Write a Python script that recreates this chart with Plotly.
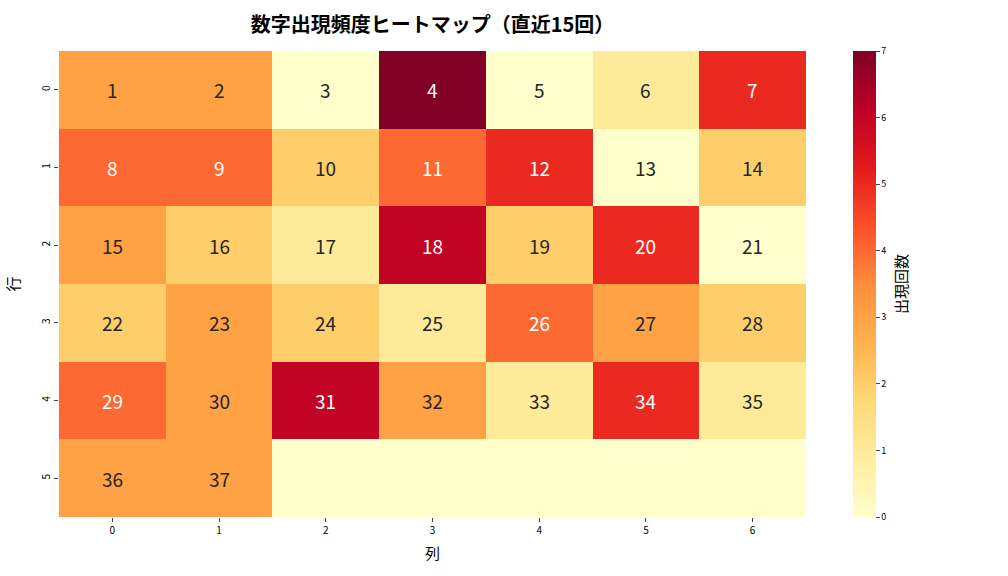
import plotly.graph_objects as go

rows = [0, 1, 2, 3, 4, 5]
cols = [0, 1, 2, 3, 4, 5, 6]
counts = [
    [3, 3, 0, 7, 0, 1, 5],
    [4, 4, 2, 4, 5, 0, 2],
    [3, 2, 1, 6, 2, 5, 0],
    [2, 3, 2, 1, 4, 3, 2],
    [4, 3, 6, 3, 1, 5, 1],
    [3, 3, 0, 0, 0, 0, 0],
]
labels = [
    ["1", "2", "3", "4", "5", "6", "7"],
    ["8", "9", "10", "11", "12", "13", "14"],
    ["15", "16", "17", "18", "19", "20", "21"],
    ["22", "23", "24", "25", "26", "27", "28"],
    ["29", "30", "31", "32", "33", "34", "35"],
    ["36", "37", "", "", "", "", ""],
]

FONT = "Noto Sans CJK JP"

fig = go.Figure(go.Heatmap(
    z=counts, x=cols, y=rows,
    colorscale="YlOrRd", zmin=0, zmax=7,
    xgap=0, ygap=0,
    colorbar=dict(
        thickness=23, len=1.0, lenmode="fraction", y=0.5, yanchor="middle",
        x=1.063, xanchor="left", xpad=0, ypad=0,
        outlinewidth=0, ticks="outside", ticklen=4, tickwidth=1,
        tickvals=[0, 1, 2, 3, 4, 5, 6, 7],
        tickfont=dict(size=9, family=FONT, color="#000"),
    ),
    hoverinfo="skip",
))

annos = []
for i, r in enumerate(rows):
    for j, c in enumerate(cols):
        t = labels[i][j]
        if t:
            annos.append(dict(
                x=c, y=r, text=t, showarrow=False,
                font=dict(size=19, family=FONT,
                          color="#ffffff" if counts[i][j] >= 4 else "#262626"),
            ))

annos.append(dict(
    xref="paper", yref="paper", x=(900 - 59) / 747, y=0.5,
    text="出現回数", textangle=-90, showarrow=False,
    xanchor="center", yanchor="middle",
    font=dict(size=15, family=FONT, color="#000"),
))

fig.update_layout(
    width=1008, height=576,
    margin=dict(l=59, r=202, t=51, b=59),
    plot_bgcolor="white", paper_bgcolor="white",
    title=dict(text="<b>数字出現頻度ヒートマップ（直近15回）</b>", x=(59 + 806) / 2 / 1008, xanchor="center",
               y=1 - 25 / 576, yanchor="middle",
               font=dict(size=20, family=FONT, color="#000")),
    annotations=annos,
    font=dict(family=FONT),
)
fig.update_xaxes(
    tickvals=cols, ticktext=[str(c) for c in cols], ticks="outside", ticklen=4,
    tickfont=dict(size=10, color="#000"), showgrid=False, zeroline=False,
    title=dict(text="列", font=dict(size=15, color="#000"), standoff=12),
    range=[-0.5, 6.5],
)
fig.update_yaxes(
    tickvals=rows, ticktext=[str(r) for r in rows], ticks="outside", ticklen=4,
    tickangle=-90,
    tickfont=dict(size=10, color="#000"), showgrid=False, zeroline=False,
    title=dict(text="行", font=dict(size=15, color="#000"), standoff=14),
    range=[5.5, -0.5],
)

fig.write_html("out.html")
